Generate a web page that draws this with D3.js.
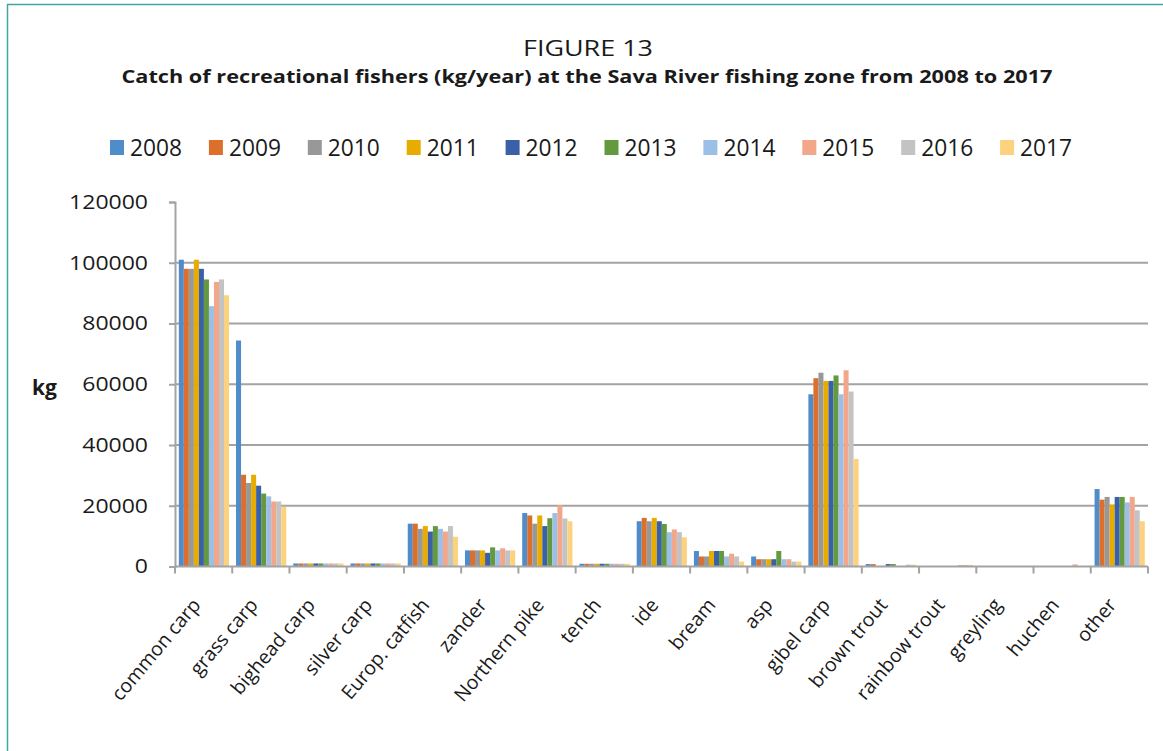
<!DOCTYPE html>
<html>
<head>
<meta charset="utf-8">
<script src="https://cdn.jsdelivr.net/npm/d3@7"></script>
<style>
  body { margin: 0; background: #fff; }
  text { font-family: "Open Sans", "Liberation Sans", sans-serif; fill: #1a1a1a; }
</style>
</head>
<body>
<script>
// fish species on the x axis
const species = ['common carp', 'grass carp', 'bighead carp', 'silver carp', 'Europ. catfish',
    'zander', 'Northern pike', 'tench', 'ide', 'bream', 'asp', 'gibel carp', 'brown trout',
    'rainbow trout', 'greyling', 'huchen', 'other'];

const years = ['2008', '2009', '2010', '2011', '2012', '2013', '2014', '2015', '2016', '2017'];

// catch in kg per species, one array per year
const catch2008 = [101000, 74400, 1000, 1000, 14100, 5300, 17600, 900, 14900, 5100, 3300, 56700, 800, 0, 0, 0, 25500];
const catch2009 = [98000, 30200, 1000, 1000, 14100, 5300, 16800, 900, 16000, 3300, 2400, 62000, 800, 0, 0, 0, 22000];
const catch2010 = [98000, 27500, 1000, 1000, 12400, 5300, 14100, 900, 14900, 3300, 2400, 63800, 0, 0, 0, 0, 22900];
const catch2011 = [101000, 30200, 1000, 1000, 13300, 5300, 16800, 900, 16000, 5100, 2400, 61100, 0, 0, 0, 0, 20400];
const catch2012 = [98000, 26600, 1000, 1000, 11500, 4500, 13300, 900, 14900, 5100, 2400, 61100, 800, 0, 0, 0, 22900];
const catch2013 = [94500, 24000, 1000, 1000, 13300, 6300, 15900, 900, 14000, 5100, 5100, 62900, 800, 0, 0, 0, 22900];
const catch2014 = [85700, 23100, 1000, 1000, 12400, 5300, 17600, 900, 11300, 3300, 2400, 56700, 0, 0, 0, 0, 21100];
const catch2015 = [93700, 21400, 1000, 1000, 11500, 6000, 20200, 900, 12200, 4200, 2400, 64600, 0, 500, 0, 700, 22900];
const catch2016 = [94500, 21400, 1000, 1000, 13300, 5300, 15800, 900, 11300, 3300, 1600, 57600, 600, 500, 0, 0, 18500];
const catch2017 = [89300, 19600, 1000, 1000, 9800, 5300, 14900, 900, 9600, 1600, 1600, 35400, 600, 500, 0, 0, 14900];

const yTicks = [0, 20000, 40000, 60000, 80000, 100000, 120000];

const colors = ['#4f8cc9', '#db6f2b', '#989898', '#e8ac00', '#3a60a8',
    '#64993f', '#9bbfe6', '#f2a68a', '#c3c3c3', '#fdd27e'];

const series = [catch2008, catch2009, catch2010, catch2011, catch2012,
    catch2013, catch2014, catch2015, catch2016, catch2017];

document.addEventListener("DOMContentLoaded", () => {

    const width = 1163;
    const height = 751;

    const svg = d3.select('body')
        .append('svg')
        .attr('width', width)
        .attr('height', height);

    // teal frame (top and left edges only)
    svg.append('line').attr('x1', 7).attr('y1', 4.5).attr('x2', width).attr('y2', 4.5)
        .attr('stroke', '#3fa6a0').attr('stroke-width', 1.5);
    svg.append('line').attr('x1', 7.5).attr('y1', 4).attr('x2', 7.5).attr('y2', height)
        .attr('stroke', '#3fa6a0').attr('stroke-width', 1.5);

    // titles
    svg.append('text')
        .attr('x', 588).attr('y', 56)
        .attr('text-anchor', 'middle')
        .style('font-size', '22px')
        .attr('textLength', 130).attr('lengthAdjust', 'spacingAndGlyphs')
        .text('FIGURE 13');

    svg.append('text')
        .attr('x', 587).attr('y', 83)
        .attr('text-anchor', 'middle')
        .style('font-size', '17px')
        .style('font-weight', 'bold')
        .attr('textLength', 931).attr('lengthAdjust', 'spacingAndGlyphs')
        .text('Catch of recreational fishers (kg/year) at the Sava River fishing zone from 2008 to 2017');

    // legend
    const legend = svg.append('g');
    const item = legend.selectAll('g')
        .data(years)
        .enter()
        .append('g')
        .attr('transform', (d, i) => `translate(${110 + i * 98.9},0)`);
    item.append('rect')
        .attr('x', 0).attr('y', 140)
        .attr('width', 14).attr('height', 15)
        .attr('fill', (d, i) => colors[i]);
    item.append('text')
        .attr('x', 20).attr('y', 156)
        .style('font-size', '23px')
        .attr('textLength', 52).attr('lengthAdjust', 'spacingAndGlyphs')
        .text(d => d);

    // scales
    const left = 175, right = 1148, top = 202, bottom = 566.5;

    const x0 = d3.scaleBand().domain(species).range([left, right]);
    const x1 = d3.scaleBand().domain(years).range([3.8, x0.bandwidth() - 3.2]);
    const y = d3.scaleLinear().domain([0, 120000]).range([bottom, top]);

    const grid = '#a3a3a3';

    // gridlines
    svg.append('g')
        .selectAll('line')
        .data(yTicks.filter(t => t > 0 && t < 120000))
        .enter()
        .append('line')
        .attr('x1', left).attr('x2', right)
        .attr('y1', d => y(d)).attr('y2', d => y(d))
        .attr('stroke', grid).attr('stroke-width', 2);

    // bars
    const groups = svg.append('g')
        .selectAll('g')
        .data(species)
        .enter()
        .append('g')
        .attr('transform', d => `translate(${x0(d)},0)`);

    groups.selectAll('rect')
        .data((d, i) => years.map((yr, k) => ({ year: yr, k: k, value: series[k][i] })))
        .enter()
        .append('rect')
        .filter(d => d.value > 0)
        .attr('x', d => x1(d.year))
        .attr('width', x1.bandwidth())
        .attr('y', d => y(d.value))
        .attr('height', d => y(0) - y(d.value))
        .attr('fill', d => colors[d.k]);

    // y axis
    const yAxis = svg.append('g')
        .attr('transform', `translate(${left},0)`)
        .call(d3.axisLeft(y).tickValues(yTicks).tickSize(6).tickPadding(21).tickFormat(d3.format('d')));
    yAxis.select('.domain').attr('stroke', grid).attr('stroke-width', 2);
    yAxis.selectAll('.tick line').attr('stroke', grid).attr('stroke-width', 2);
    yAxis.selectAll('.tick text')
        .style('font-size', '20px')
        .style('font-family', '"Open Sans", sans-serif')
        .attr('fill', '#1a1a1a')
        .each(function () {
            const w = this.getComputedTextLength();
            d3.select(this).attr('textLength', w * 1.15).attr('lengthAdjust', 'spacingAndGlyphs');
        });

    svg.append('text')
        .attr('x', 32).attr('y', 395)
        .style('font-size', '21px')
        .style('font-weight', 'bold')
        .text('kg');

    // x axis line and ticks at band edges
    svg.append('line')
        .attr('x1', left).attr('x2', right)
        .attr('y1', bottom).attr('y2', bottom)
        .attr('stroke', grid).attr('stroke-width', 2);

    const edges = species.map(s => x0(s)).concat([right]);
    svg.append('g')
        .selectAll('line')
        .data(edges)
        .enter()
        .append('line')
        .attr('x1', d => d).attr('x2', d => d)
        .attr('y1', bottom).attr('y2', bottom + 7)
        .attr('stroke', grid).attr('stroke-width', 2);

    // rotated category labels
    svg.append('g')
        .selectAll('text')
        .data(species)
        .enter()
        .append('text')
        .attr('text-anchor', 'end')
        .attr('transform', d => `translate(${x0(d) + x0.bandwidth() / 2 - 2},${bottom + 39}) rotate(-50)`)
        .style('font-size', '19.5px')
        .text(d => d);
});
</script>
</body>
</html>
